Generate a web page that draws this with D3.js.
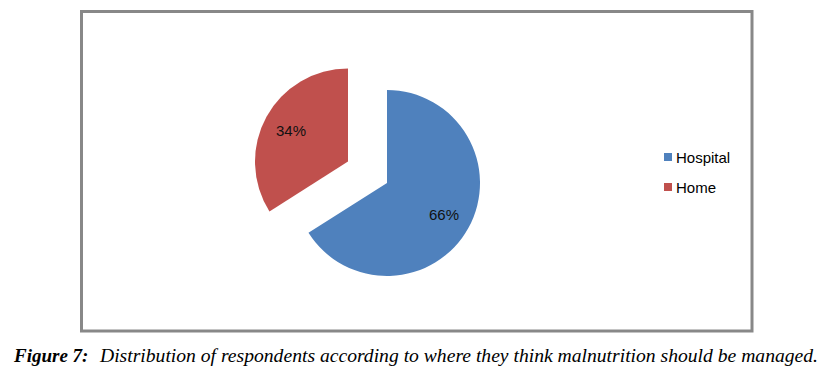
<!DOCTYPE html>
<html>
<head>
<meta charset="utf-8">
<script src="https://cdn.jsdelivr.net/npm/d3@7"></script>
<style>
  body { margin: 0; background: #fff; }
  svg { display: block; }
</style>
</head>
<body>
<svg id="chart"></svg>
<script>
const categories = ['Hospital', 'Home'];
const values = [66, 34];
const colors = ['#4F81BD', '#C0504D'];
const explodedIdx = 1;

const width = 840, height = 377;
const svg = d3.select('#chart').attr('width', width).attr('height', height);

// chart frame
svg.append('rect')
    .attr('x', 81.5).attr('y', 11.5)
    .attr('width', 670.5).attr('height', 319.5)
    .attr('fill', 'none')
    .attr('stroke', '#888')
    .attr('stroke-width', 3);

const cx = 387, cy = 183, radius = 93, explode = 44.5;

const pie = d3.pie().sort(null).value(d => d.value);
const arcs = pie(categories.map((c, i) => ({cat: c, value: values[i], i: i})));
const arc = d3.arc().innerRadius(0).outerRadius(radius);
const labelArc = d3.arc().innerRadius(radius * 0.7).outerRadius(radius * 0.7);

const g = svg.append('g').attr('transform', `translate(${cx}, ${cy})`);

const slice = g.selectAll('.slice')
    .data(arcs)
    .join('g')
    .attr('class', 'slice')
    .attr('transform', d => {
        if (d.data.i !== explodedIdx) return null;
        const mid = (d.startAngle + d.endAngle) / 2;
        return `translate(${Math.sin(mid) * explode}, ${-Math.cos(mid) * explode})`;
    });

slice.append('path')
    .attr('d', arc)
    .attr('fill', d => colors[d.data.i]);

slice.append('text')
    .attr('transform', d => `translate(${labelArc.centroid(d)})`)
    .attr('text-anchor', 'middle')
    .attr('dy', '0.36em')
    .style('font-family', 'Arial, "Liberation Sans", sans-serif')
    .style('font-size', '15px')
    .attr('fill', '#111')
    .text(d => d.data.value + '%');

// legend
const legend = svg.append('g').attr('transform', 'translate(664, 152)');
const item = legend.selectAll('.item')
    .data(categories)
    .join('g')
    .attr('class', 'item')
    .attr('transform', (d, i) => `translate(0, ${i * 30})`);

item.append('rect')
    .attr('width', 8).attr('height', 8)
    .attr('y', 1)
    .attr('fill', (d, i) => colors[i]);

item.append('text')
    .attr('x', 12)
    .attr('y', 10.5)
    .style('font-family', 'Arial, "Liberation Sans", sans-serif')
    .style('font-size', '15px')
    .attr('fill', '#000')
    .text(d => d);

// caption
const caption = svg.append('text')
    .attr('x', 14)
    .attr('y', 362)
    .style('font-family', '"Liberation Serif", "Times New Roman", serif')
    .style('font-size', '19px')
    .style('font-style', 'italic')
    .attr('fill', '#000');
caption.append('tspan')
    .style('font-weight', 'bold')
    .text('Figure 7:');
caption.append('tspan')
    .attr('x', 100)
    .attr('textLength', 718)
    .attr('lengthAdjust', 'spacingAndGlyphs')
    .style('font-size', '19.6px')
    .text('Distribution of respondents according to where they think malnutrition should be managed.');
</script>
</body>
</html>
